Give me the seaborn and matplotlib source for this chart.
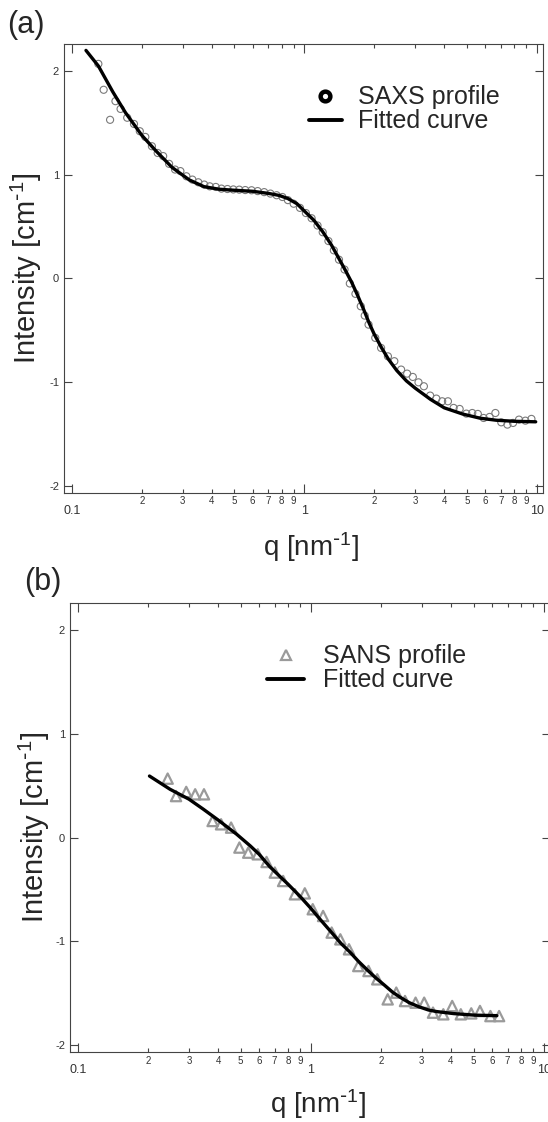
import matplotlib
matplotlib.use("Agg")
import matplotlib.pyplot as plt
from matplotlib.lines import Line2D
from matplotlib import ticker
import seaborn as sns

# ---- data (log10 intensity vs q) ----
saxs_q = [0.130, 0.137, 0.146, 0.154, 0.162, 0.173, 0.185, 0.196, 0.207, 0.221,
          0.234, 0.247, 0.262, 0.278, 0.293, 0.311, 0.330, 0.350, 0.371, 0.392,
          0.416, 0.440, 0.467, 0.495, 0.525, 0.557, 0.593, 0.630, 0.672, 0.715,
          0.760, 0.805, 0.850, 0.900, 0.958, 1.016, 1.075, 1.14, 1.20, 1.27,
          1.34, 1.41, 1.49, 1.57, 1.66, 1.75, 1.82, 1.89, 2.02, 2.14,
          2.29, 2.44, 2.61, 2.77, 2.93, 3.10, 3.27, 3.48, 3.70, 3.92,
          4.15, 4.39, 4.66, 4.98, 5.28, 5.58, 5.91, 6.27, 6.64, 7.04,
          7.48, 7.91, 8.39, 8.94, 9.49]
saxs_I = [2.07, 1.82, 1.53, 1.71, 1.635, 1.55, 1.49, 1.42, 1.365, 1.275,
          1.21, 1.18, 1.105, 1.05, 1.035, 0.985, 0.953, 0.927, 0.905, 0.888,
          0.882, 0.866, 0.862, 0.858, 0.856, 0.852, 0.850, 0.842, 0.832, 0.818,
          0.802, 0.785, 0.755, 0.72, 0.68, 0.63, 0.58, 0.51, 0.445, 0.36,
          0.27, 0.18, 0.085, -0.05, -0.15, -0.27, -0.36, -0.447, -0.575, -0.672,
          -0.753, -0.80, -0.881, -0.92, -0.952, -1.004, -1.042, -1.132, -1.161, -1.187,
          -1.187, -1.251, -1.261, -1.306, -1.30, -1.309, -1.348, -1.338, -1.30, -1.39,
          -1.412, -1.396, -1.364, -1.374, -1.357]

fit_a_q = [0.115, 0.13, 0.15, 0.17, 0.20, 0.23, 0.27, 0.32, 0.37, 0.43,
           0.50, 0.60, 0.70, 0.78, 0.85, 0.93, 1.00, 1.10, 1.20, 1.31,
           1.41, 1.50, 1.60, 1.70, 1.80, 1.90, 2.00, 2.15, 2.30, 2.50,
           2.75, 3.00, 3.50, 4.00, 4.80, 5.70, 6.70, 8.00, 9.90]
fit_a_I = [2.20, 2.05, 1.80, 1.60, 1.38, 1.23, 1.07, 0.95, 0.885, 0.86,
           0.85, 0.84, 0.82, 0.80, 0.77, 0.72, 0.65, 0.56, 0.45, 0.32,
           0.19, 0.08, -0.04, -0.17, -0.30, -0.43, -0.54, -0.67, -0.78, -0.89,
           -0.99, -1.06, -1.17, -1.25, -1.31, -1.35, -1.37, -1.38, -1.385]

sans_q = [0.243, 0.264, 0.292, 0.319, 0.348, 0.379, 0.412, 0.455, 0.494, 0.539,
          0.592, 0.646, 0.701, 0.761, 0.855, 0.943, 1.02, 1.13, 1.23, 1.34,
          1.46, 1.60, 1.77, 1.93, 2.14, 2.33, 2.54, 2.82, 3.07, 3.35,
          3.71, 4.05, 4.41, 4.89, 5.33, 5.91, 6.44]
sans_I = [0.568, 0.40, 0.44, 0.417, 0.417, 0.16, 0.128, 0.096, -0.096, -0.145,
          -0.161, -0.235, -0.337, -0.418, -0.546, -0.537, -0.69, -0.755, -0.915, -0.98,
          -1.076, -1.237, -1.285, -1.365, -1.558, -1.493, -1.574, -1.59, -1.59, -1.686,
          -1.702, -1.622, -1.702, -1.693, -1.67, -1.719, -1.719]

fit_b_q = [0.203, 0.249, 0.30, 0.346, 0.40, 0.481, 0.55, 0.60, 0.667, 0.734,
           0.80, 0.897, 1.0, 1.10, 1.23, 1.35, 1.47, 1.60, 1.74, 1.90,
           2.07, 2.25, 2.45, 2.65, 2.92, 3.20, 3.46, 4.11, 5.06, 6.30]
fit_b_I = [0.593, 0.465, 0.37, 0.273, 0.17, 0.032, -0.08, -0.16, -0.28, -0.37,
           -0.45, -0.563, -0.68, -0.79, -0.915, -1.02, -1.10, -1.19, -1.27, -1.35,
           -1.42, -1.49, -1.545, -1.59, -1.63, -1.66, -1.675, -1.695, -1.71, -1.715]

x_major = [0.1, 1, 10]
x_major_labels = ["0.1", "1", "10"]
x_minor = [0.2, 0.3, 0.4, 0.5, 0.6, 0.7, 0.8, 0.9, 2, 3, 4, 5, 6, 7, 8, 9]
x_minor_labels = ["2", "3", "4", "5", "6", "7", "8", "9"] * 2
y_ticks = [-2, -1, 0, 1, 2]
y_tick_labels = ["-2", "-1", "0", "1", "2"]

sns.set_style("ticks")
plt.rcParams["font.family"] = ["Liberation Sans", "DejaVu Sans"]
plt.rcParams["mathtext.default"] = "regular"
plt.rcParams["axes.unicode_minus"] = False

fig = plt.figure(figsize=(5.48, 11.22), dpi=100)
ax_a = fig.add_axes([0.1168, 0.561, 0.8742, 0.3998])
ax_b = fig.add_axes([0.1277, 0.0621, 0.8759, 0.4007])

spine_col = "#444444"
x_title = r"q [nm$^{\text{-}1}$]"
y_title = r"Intensity [cm$^{\text{-}1}$]"


def style_axes(ax):
    ax.set_xscale("log")
    ax.set_xlim(0.0925, 10.65)
    ax.set_ylim(-2.068, 2.262)
    ax.xaxis.set_major_locator(ticker.FixedLocator(x_major))
    ax.xaxis.set_major_formatter(ticker.FixedFormatter(x_major_labels))
    ax.xaxis.set_minor_locator(ticker.FixedLocator(x_minor))
    ax.xaxis.set_minor_formatter(ticker.FixedFormatter(x_minor_labels))
    ax.set_yticks(y_ticks)
    ax.set_yticklabels(y_tick_labels)
    ax.tick_params(axis="both", which="both", direction="in", top=True, right=True,
                   color=spine_col, width=0.8, labelcolor="#333333")
    ax.tick_params(axis="x", which="major", length=6.2, pad=8.6, labelsize=9)
    ax.tick_params(axis="x", which="minor", length=2.9, pad=2.8, labelsize=7)
    ax.tick_params(axis="y", which="major", length=5.8, pad=3.5, labelsize=8)
    for s in ax.spines.values():
        s.set_color(spine_col)
        s.set_linewidth(0.8)
    ax.set_xlabel(x_title, fontsize=20)
    ax.set_ylabel(y_title, fontsize=21)


# ---- panel (a) ----
sns.scatterplot(x=saxs_q, y=saxs_I, ax=ax_a, marker="o", s=26, facecolors="none",
                edgecolor="#7a7a7a", linewidth=0.8, zorder=2)
sns.lineplot(x=fit_a_q, y=fit_a_I, ax=ax_a, color="black", linewidth=2.4,
             sort=False, zorder=3)
style_axes(ax_a)
ax_a.yaxis.set_label_coords(-0.042, 0.5)
ax_a.xaxis.set_label_coords(0.516, -0.084)

h_a = [Line2D([], [], ls="none", marker="o", markersize=7, markerfacecolor="white",
              markeredgecolor="black", markeredgewidth=3.2),
       Line2D([], [], color="black", linewidth=2.8)]
ax_a.legend(h_a, ["SAXS profile", "Fitted curve"], loc="upper left",
            bbox_to_anchor=(0.564, 0.9238), bbox_transform=fig.transFigure,
            frameon=False, fontsize=18, handlelength=1.3, handletextpad=0.65,
            labelspacing=0.0, borderpad=0, borderaxespad=0)

# ---- panel (b) ----
sns.scatterplot(x=sans_q, y=sans_I, ax=ax_b, marker="^", s=55, facecolors="none",
                edgecolor="#9a9a9a", linewidth=1.6, zorder=2)
sns.lineplot(x=fit_b_q, y=fit_b_I, ax=ax_b, color="black", linewidth=2.4,
             sort=False, zorder=3)
style_axes(ax_b)
ax_b.yaxis.set_label_coords(-0.037, 0.5)
ax_b.xaxis.set_label_coords(0.517, -0.077)

h_b = [Line2D([], [], ls="none", marker="^", markersize=7.5, markerfacecolor="none",
              markeredgecolor="#9a9a9a", markeredgewidth=1.6),
       Line2D([], [], color="black", linewidth=2.8)]
ax_b.legend(h_b, ["SANS profile", "Fitted curve"], loc="upper left",
            bbox_to_anchor=(0.488, 0.4256), bbox_transform=fig.transFigure,
            frameon=False, fontsize=18, handlelength=1.45, handletextpad=0.76,
            labelspacing=0.0, borderpad=0, borderaxespad=0)

fig.text(7 / 548, 1 - 10 / 1122, "(a)", fontsize=22, ha="left", va="top")
fig.text(24 / 548, 1 - 567 / 1122, "(b)", fontsize=22, ha="left", va="top")

fig.savefig("out.png", dpi=100)
